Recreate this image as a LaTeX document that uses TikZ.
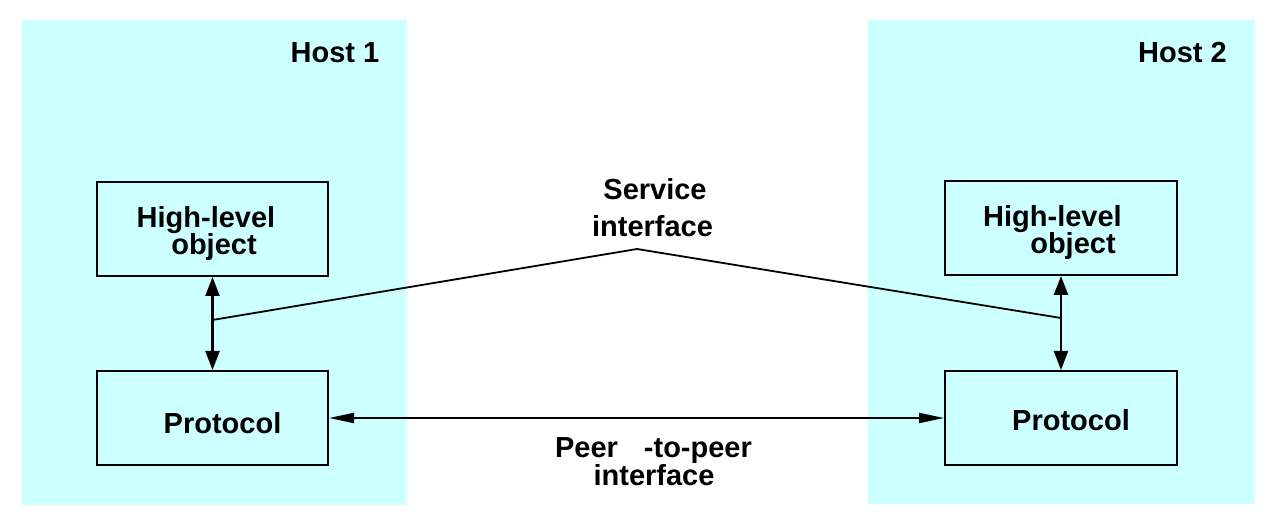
\documentclass[tikz,border=0pt]{standalone}
\usepackage{fontspec}
\setmainfont{Liberation Sans}
\usetikzlibrary{arrows.meta}
\definecolor{hostfill}{RGB}{204,255,255}
\begin{document}
\begin{tikzpicture}[x=1pt,y=-1pt,
  panel/.style={fill=hostfill, draw=none, inner sep=0pt, minimum width=#1},
  box/.style={draw=black, line width=2pt, fill=hostfill, inner sep=0pt, minimum width=231pt, minimum height=94pt},
  lbl/.style={anchor=base, inner sep=0pt, font=\fontsize{29}{34}\selectfont\bfseries},
  vconn/.style={line width=2.2pt, {Triangle[length=19pt,width=14pt]}-{Triangle[length=19pt,width=14pt]}},
  hconn/.style={line width=2pt, {Triangle[length=25pt,width=10pt]}-{Triangle[length=25pt,width=10pt]}},
  svc/.style={line width=1.8pt}
]
\useasboundingbox (0,0) rectangle (1280,526);
% host panels
\node[panel=385pt, minimum height=485pt] (host1) at (214.5,262.5) {};
\node[panel=387pt, minimum height=484pt] (host2) at (1061.5,262) {};
% boxes
\node[box] (hl1) at (212.5,229) {};
\node[box] (p1) at (212.5,418) {};
\node[box, minimum width=232pt] (hl2) at (1061,228) {};
\node[box, minimum width=232pt] (p2) at (1061,418) {};
% labels
\node[lbl] (h1t) at (335,63) {Host 1};
\node[lbl] (h2t) at (1182.5,63) {Host 2};
\node[lbl] (hl1a) at (206,228) {High-level};
\node[lbl] (hl1b) at (214,255) {object};
\node[lbl] (hl2a) at (1052.5,227) {High-level};
\node[lbl] (hl2b) at (1073,254) {object};
\node[lbl] (p1t) at (222.5,434) {Protocol};
\node[lbl] (p2t) at (1071,431) {Protocol};
\node[lbl] (sv1) at (655,200) {Service};
\node[lbl] (sv2) at (652.5,237) {interface};
\node[lbl] (pp1) at (653.5,457) {Peer\hspace{26pt}-to-peer};
\node[lbl] (pp2) at (654,485) {interface};
% connectors
\coordinate (j1) at (212.5,320);
\coordinate (apex) at (637,249);
\coordinate (j2) at (1061,318);
\draw[vconn] (hl1.south) -- (p1.north);
\draw[vconn] (hl2.south) -- (p2.north);
\draw[hconn] (p1.east) -- (p2.west);
\draw[svc] (j1) -- (apex) -- (j2);
\end{tikzpicture}
\end{document}
